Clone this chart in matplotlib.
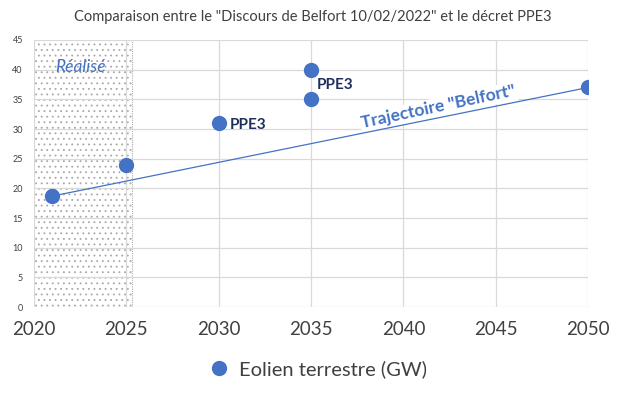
import matplotlib.pyplot as plt
import matplotlib.patches as mpatches

# values
years = [2021, 2025, 2030, 2035, 2035, 2050]
gw = [18.7, 24, 31, 40, 35, 37]
trend_years = [2021, 2050]
trend_gw = [18.7, 37]
realise = (2020, 2025.3)

blue = '#4472c4'
navy = '#1f2f5c'
plt.rcParams['font.family'] = ['Lato', 'DejaVu Sans']
plt.rcParams['hatch.linewidth'] = 0.6

fig = plt.figure(figsize=(6.25, 3.96), dpi=100)
ax = fig.add_axes([0.0544, 0.2247, 0.8866, 0.6743])

# shaded "Réalisé" zone
ax.add_patch(mpatches.Rectangle((realise[0], 0), realise[1] - realise[0], 45,
                                facecolor='white', edgecolor='#a8a8a8', hatch='...',
                                linewidth=0, zorder=0.2))
ax.axvline(realise[1], color='#b0b0b0', lw=0.8, ls=(0, (1, 1)), zorder=0.3)

ax.plot(trend_years, trend_gw, color=blue, lw=0.9, zorder=2)
ax.plot(years, gw, 'o', color=blue, ms=10, ls='none', zorder=3,
        label='Eolien terrestre (GW)')

ax.set_xlim(2020, 2050)
ax.set_ylim(0, 45)
ax.set_xticks(range(2020, 2051, 5))
ax.set_yticks(range(0, 46, 5))
ax.grid(color='#d9d9d9', lw=0.9)
ax.set_axisbelow(True)
for s in ax.spines.values():
    s.set_visible(False)
ax.tick_params(length=0)
ax.tick_params(axis='y', labelsize=6.5, labelcolor='#404040', pad=8)
ax.tick_params(axis='x', labelsize=13.5, labelcolor='#404040', pad=10)

ax.text(2022.5, 40.5, 'Réalisé', color=blue, style='italic', fontsize=12.5,
        ha='center', va='center', zorder=4)
ax.text(2030.6, 30.7, 'PPE3', color=navy, fontweight='bold', fontsize=11,
        ha='left', va='center', zorder=4)
ax.text(2035.3, 37.4, 'PPE3', color=navy, fontweight='bold', fontsize=11,
        ha='left', va='center', zorder=4)
ax.text(2041.9, 33.7, 'Trajectoire "Belfort"', color=blue, fontweight='bold',
        fontsize=12.5, rotation=12, ha='center', va='center', zorder=1.5,
        bbox=dict(facecolor='white', edgecolor='none', pad=1))

fig.suptitle('Comparaison entre le "Discours de Belfort 10/02/2022" et le décret PPE3',
             y=0.975, fontsize=10.5, color='#404040')
fig.legend(loc='lower center', bbox_to_anchor=(0.5, 0.0), frameon=False,
           fontsize=14.5, handletextpad=0.0, markerscale=1.0,
           labelcolor='#404040')

plt.savefig('out.png', dpi=100)
